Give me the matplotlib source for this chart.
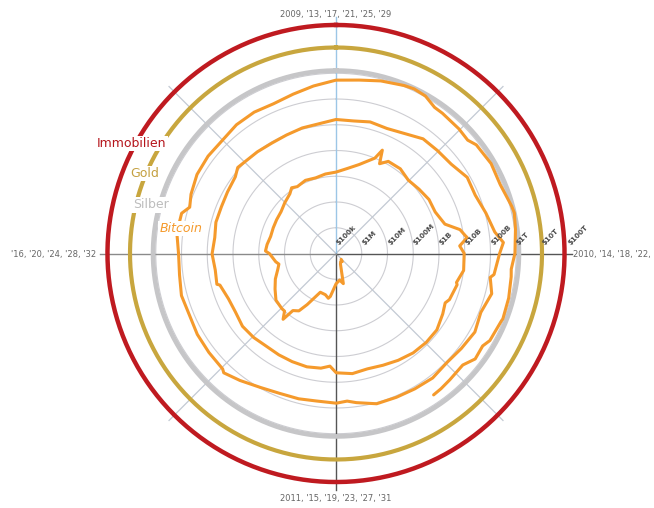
import numpy as np
import pandas as pd
import matplotlib.pyplot as plt

# Bitcoin market cap (USD bn)
btc_dates = [
    '2010-07-18', '2010-08-01', '2010-09-01', '2010-10-01', '2010-11-01', '2010-11-07', '2010-12-01',
    '2011-01-01', '2011-02-01', '2011-02-10', '2011-03-01', '2011-04-01', '2011-05-01', '2011-05-15',
    '2011-06-01', '2011-06-08', '2011-06-20', '2011-07-01', '2011-08-01', '2011-09-01', '2011-10-01',
    '2011-11-01', '2011-11-20', '2011-12-01',
    '2012-01-01', '2012-01-10', '2012-02-01', '2012-03-01', '2012-04-01', '2012-05-01', '2012-06-01',
    '2012-07-01', '2012-08-01', '2012-08-16', '2012-09-01', '2012-10-01', '2012-11-01', '2012-12-01',
    '2013-01-01', '2013-02-01', '2013-03-01', '2013-04-01', '2013-04-09', '2013-04-16', '2013-05-01',
    '2013-06-01', '2013-07-01', '2013-08-01', '2013-09-01', '2013-10-01', '2013-11-01', '2013-11-18',
    '2013-12-01', '2013-12-04', '2013-12-18',
    '2014-01-01', '2014-02-01', '2014-02-25', '2014-03-01', '2014-04-01', '2014-04-10', '2014-05-01',
    '2014-06-01', '2014-07-01', '2014-08-01', '2014-09-01', '2014-10-01', '2014-11-01', '2014-12-01',
    '2015-01-01', '2015-01-14', '2015-02-01', '2015-03-01', '2015-04-01', '2015-05-01', '2015-06-01',
    '2015-07-01', '2015-08-01', '2015-09-01', '2015-10-01', '2015-11-01', '2015-11-04', '2015-12-01',
    '2016-01-01', '2016-02-01', '2016-03-01', '2016-04-01', '2016-05-01', '2016-06-01', '2016-06-17',
    '2016-07-01', '2016-08-01', '2016-09-01', '2016-10-01', '2016-11-01', '2016-12-01',
    '2017-01-01', '2017-02-01', '2017-03-01', '2017-04-01', '2017-05-01', '2017-06-01', '2017-07-01',
    '2017-08-01', '2017-09-01', '2017-10-01', '2017-11-01', '2017-12-01', '2017-12-17',
    '2018-01-01', '2018-02-01', '2018-02-06', '2018-03-01', '2018-04-01', '2018-05-01', '2018-06-01',
    '2018-07-01', '2018-08-01', '2018-09-01', '2018-10-01', '2018-11-01', '2018-12-01', '2018-12-15',
    '2019-01-01', '2019-02-01', '2019-03-01', '2019-04-01', '2019-05-01', '2019-06-01', '2019-06-26',
    '2019-07-01', '2019-08-01', '2019-09-01', '2019-10-01', '2019-11-01', '2019-12-01',
    '2020-01-01', '2020-02-01', '2020-03-01', '2020-03-13', '2020-04-01', '2020-05-01', '2020-06-01',
    '2020-07-01', '2020-08-01', '2020-09-01', '2020-10-01', '2020-11-01', '2020-12-01',
    '2021-01-01', '2021-02-01', '2021-03-01', '2021-04-01', '2021-04-14', '2021-05-01', '2021-05-19',
    '2021-06-01', '2021-07-01', '2021-07-20', '2021-08-01', '2021-09-01', '2021-10-01', '2021-11-01',
    '2021-11-10', '2021-12-01',
    '2022-01-01', '2022-01-22', '2022-02-01', '2022-03-01', '2022-03-29', '2022-04-01', '2022-05-01',
    '2022-05-12', '2022-06-01', '2022-06-18', '2022-07-01', '2022-07-15', '2022-08-01', '2022-08-14',
]
btc_cap_bn = [
    0.0002, 0.00025, 0.00023, 0.00028, 0.0009, 0.0016, 0.0011,
    0.0015, 0.0048, 0.0058, 0.0045, 0.0042, 0.019, 0.045,
    0.06, 0.19, 0.10, 0.10, 0.09, 0.055, 0.036,
    0.022, 0.018, 0.023,
    0.038, 0.055, 0.050, 0.042, 0.043, 0.045, 0.048,
    0.063, 0.085, 0.120, 0.100, 0.120, 0.110, 0.130,
    0.145, 0.215, 0.370, 1.00, 2.50, 0.75, 1.30,
    1.35, 1.00, 1.20, 1.50, 1.50, 2.40, 8.0,
    12.0, 13.5, 6.5,
    9.5, 10.0, 6.5, 7.2, 5.7, 4.5, 5.8,
    8.2, 8.3, 7.7, 6.3, 5.1, 4.4, 5.1,
    4.3, 2.4, 3.1, 3.5, 3.4, 3.3, 3.2,
    3.7, 4.0, 3.3, 3.4, 4.7, 6.0, 5.4,
    6.5, 5.6, 6.6, 6.4, 7.0, 8.2, 11.8,
    10.6, 9.8, 9.1, 9.7, 11.2, 12.0,
    16.0, 15.6, 19.0, 17.5, 23.0, 39.0, 41.0,
    46.0, 78.0, 73.0, 107.0, 167.0, 327.0,
    227.0, 155.0, 115.0, 176.0, 118.0, 157.0, 128.0,
    110.0, 132.0, 121.0, 114.0, 111.0, 70.0, 56.0,
    65.0, 60.0, 67.0, 72.0, 94.0, 152.0, 230.0,
    192.0, 180.0, 172.0, 150.0, 166.0, 136.0,
    130.0, 171.0, 157.0, 91.0, 121.0, 162.0, 175.0,
    169.0, 209.0, 220.0, 200.0, 256.0, 366.0,
    540.0, 624.0, 840.0, 1100.0, 1190.0, 1080.0, 700.0,
    687.0, 628.0, 560.0, 778.0, 916.0, 825.0, 1160.0,
    1270.0, 1080.0,
    890.0, 680.0, 730.0, 843.0, 910.0, 865.0, 733.0,
    540.0, 605.0, 360.0, 368.0, 400.0, 445.0, 470.0,
]

asset_names = ['Immobilien', 'Gold', 'Silber']
asset_cap_bn = [75000.0, 10000.0, 1270.0]

radial_labels = ['$100k', '$1M', '$10M', '$100M', '$1B', '$10B', '$100B', '$1T', '$10T', '$100T']
radial_values_bn = [0.0001, 0.001, 0.01, 0.1, 1, 10, 100, 1000, 10000, 100000]

angle_labels = ["2009, '13, '17, '21, '25, '29",
                "2010, '14, '18, '22,",
                "2011, '15, '19, '23, '27, '31",
                "'16, '20, '24, '28, '32"]

red = '#bf1a20'
gold = '#c8a63e'
silver = '#c6c6c8'
orange = '#f59a2c'


def to_r(bn):
    # decades above $100k
    return np.log10(np.asarray(bn) * 1e9) - 5


days = (pd.to_datetime(btc_dates) - pd.Timestamp('2009-01-01')).days.to_numpy()
theta = 2 * np.pi * (days / 365.25) / 4

##############
# figure
##############

fig = plt.figure(figsize=(6.54, 5.08), dpi=100)
W, H = 654, 508
cx, cy = 336, 253.5
R = 9.3 * 25.75
ax = fig.add_axes([(cx - R) / W, (H - cy - R) / H, 2 * R / W, 2 * R / H], projection='polar')
ax.set_theta_zero_location('N')
ax.set_theta_direction(-1)
ax.set_rlim(0, 9.3)
ax.set_axis_off()

full = np.linspace(0, 2 * np.pi, 500)

# grid circles
for v in radial_values_bn[1:8]:
    ax.plot(full, np.full_like(full, to_r(v)), color='#cdcdd2', lw=0.8, zorder=1)

# spokes
rend = 9.17
for a in [45, 135, 225, 315]:
    ax.plot([0, np.radians(a)], [0, rend], color='#c2c9d3', lw=0.9, zorder=1)
ax.plot([0, 0], [0, rend], color='#9cc6e6', lw=1.0, zorder=1)
ax.plot([np.pi, np.pi], [0, rend], color='#555555', lw=1.0, zorder=1)
ax.plot([np.pi / 2, np.pi / 2], [0, rend], color='#555555', lw=1.0, zorder=1)
ax.plot([3 * np.pi / 2, 3 * np.pi / 2], [0, rend], color='#8a8a8a', lw=1.0, zorder=1)

# asset circles
for cap, c, lw in zip(asset_cap_bn, [red, gold, silver], [3.2, 3.0, 3.4]):
    ax.plot(full, np.full_like(full, to_r(cap)), color=c, lw=lw, zorder=2)

# bitcoin spiral
ax.plot(theta, to_r(btc_cap_bn), color=orange, lw=2.2, zorder=3,
        solid_capstyle='round', solid_joinstyle='round')

# radial tick labels
for lab, v in zip(radial_labels, radial_values_bn):
    ax.annotate(lab, xy=(np.pi / 2, to_r(v)), xytext=(2.5, 5.5), textcoords='offset points',
                rotation=45, rotation_mode='anchor', ha='left', va='bottom',
                fontsize=5.2, fontweight='bold', color='#4a4a4a', zorder=4)

# angle labels
fig.text(cx / W, 1 - 14 / H, angle_labels[0], ha='center', va='center', fontsize=6, color='#666666')
fig.text(573 / W, 1 - 254 / H, angle_labels[1], ha='left', va='center', fontsize=6, color='#666666')
fig.text(cx / W, 1 - 499 / H, angle_labels[2], ha='center', va='center', fontsize=6, color='#666666')
fig.text(96 / W, 1 - 254 / H, angle_labels[3], ha='right', va='center', fontsize=6, color='#666666')

# legend names
box = dict(facecolor='white', edgecolor='none', pad=1.0)
fig.text(132 / W, 1 - 143.5 / H, asset_names[0], ha='center', va='center', fontsize=9, color='#b5151c', bbox=box)
fig.text(145 / W, 1 - 173.5 / H, asset_names[1], ha='center', va='center', fontsize=9, color='#c4a040', bbox=box)
fig.text(150.5 / W, 1 - 205 / H, asset_names[2], ha='center', va='center', fontsize=9, color='#bdbdbd', bbox=box)
fig.text(181 / W, 1 - 228.5 / H, 'Bitcoin', ha='center', va='center', fontsize=9, color=orange,
         style='italic', bbox=box)

fig.savefig('out.png', dpi=100)
